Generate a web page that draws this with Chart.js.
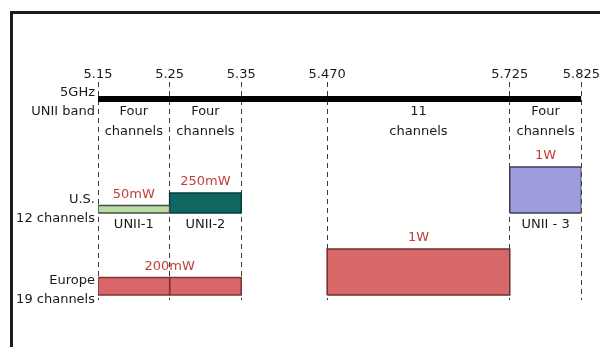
<!DOCTYPE html>
<html>
<head>
<meta charset="utf-8">
<script src="https://cdn.jsdelivr.net/npm/chart.js@4.4.1/dist/chart.umd.min.js"></script>
<style>
  html, body { margin: 0; padding: 0; background: #fff; }
  #wrap  { position: relative; width: 600px; height: 347px; overflow: hidden; }
  #frame { position: absolute; left: 10px; top: 11px; width: 600px; height: 400px;
           border-left: 3px solid #1c1c1c; border-top: 3px solid #1c1c1c; }
  canvas { position: absolute; left: 0; top: 0; }
</style>
</head>
<body>
<div id="wrap">
  <div id="frame"></div>
  <canvas id="bands" width="600" height="347"></canvas>
</div>
<script>
// ── Data ──────────────────────────────────
const freqTicks  = [5.15, 5.25, 5.35, 5.47, 5.725, 5.825];
const tickLabels = ['5.15', '5.25', '5.35', '5.470', '5.725', '5.825'];
const rowLabels  = [['5GHz', 'UNII band'], ['U.S.', '12 channels'], ['Europe', '19 channels']];

const groupStart = [5.15, 5.25, 5.47, 5.725];
const groupEnd   = [5.25, 5.35, 5.725, 5.825];
const groupCount = ['Four', 'Four', '11', 'Four'];

const bandRegion = ['U.S.', 'U.S.', 'U.S.', 'Europe', 'Europe', 'Europe'];
const bandStart  = [5.15, 5.25, 5.725, 5.15, 5.25, 5.47];
const bandEnd    = [5.25, 5.35, 5.825, 5.25, 5.35, 5.725];
const bandPower  = [50, 250, 1000, 200, 200, 1000];     // mW
const bandName   = ['UNII-1', 'UNII-2', 'UNII - 3', '', '', ''];

// ── Layout (y units ≈ px above chart bottom) ──
const Y_MAX     = 218;
const ROW_LEVEL = [198, 91, 10];                 // tick centre for each row label
const BASE      = { 'U.S.': 87, 'Europe': 5 };   // bar baselines
const BAND_Y    = 201;
const COUNT_Y   = [188, 168];

// ── Styles ────────────────────────────────
const FONT     = '"DejaVu Sans", sans-serif';
const INK      = '#1a1a1a';
const RED_TEXT = '#c43c3c';
const FILL     = ['#b8dca4', '#0f6662', '#9e9edd', '#d9676a', '#d9676a', '#d86868'];
const EDGE     = ['#4a4a4a', '#083c3a', '#3e3e55', '#7a3434', '#7a3434', '#6a3030'];

// bar height grows with transmit power
const heightFor = mW => 46 * Math.pow(mW / 1000, 0.6);
const powerText = mW => mW >= 1000 ? (mW / 1000) + 'W' : mW + 'mW';

// ── Datasets ──────────────────────────────
const datasets = [{
  data: [{ x: freqTicks[0], y: BAND_Y }, { x: freqTicks[freqTicks.length - 1], y: BAND_Y }],
  borderColor: '#000',
  borderWidth: 6,
  borderCapStyle: 'butt',
  pointRadius: 0,
  fill: false
}];

bandStart.forEach((s, i) => {
  const b = BASE[bandRegion[i]];
  const t = b + heightFor(bandPower[i]);
  const e = bandEnd[i];
  datasets.push({
    data: [{ x: s, y: b }, { x: e, y: b }, { x: e, y: t }, { x: s, y: t }, { x: s, y: b }],
    borderColor: EDGE[i],
    backgroundColor: FILL[i],
    borderWidth: 1.5,
    pointRadius: 0,
    tension: 0,
    fill: 'shape'
  });
});

// ── Text plugin ───────────────────────────
const bandText = {
  id: 'bandText',
  afterDatasetsDraw(chart) {
    const { ctx, scales: { x, y } } = chart;
    ctx.save();
    ctx.font = '13px ' + FONT;
    ctx.textAlign = 'center';
    ctx.textBaseline = 'middle';

    // channel counts under the band line
    ctx.fillStyle = INK;
    groupStart.forEach((s, i) => {
      const cx = x.getPixelForValue((s + groupEnd[i]) / 2);
      ctx.fillText(groupCount[i], cx, y.getPixelForValue(COUNT_Y[0]));
      ctx.fillText('channels', cx, y.getPixelForValue(COUNT_Y[1]));
    });

    // UNII names under the U.S. bars
    bandName.forEach((n, i) => {
      if (!n) return;
      const cx = x.getPixelForValue((bandStart[i] + bandEnd[i]) / 2);
      ctx.fillText(n, cx, y.getPixelForValue(BASE[bandRegion[i]] - 12));
    });

    // power labels, merged over neighbouring bands with the same limit
    ctx.fillStyle = RED_TEXT;
    let i = 0;
    while (i < bandStart.length) {
      let j = i;
      while (j + 1 < bandStart.length &&
             bandRegion[j + 1] === bandRegion[i] &&
             bandPower[j + 1] === bandPower[i] &&
             bandStart[j + 1] === bandEnd[j]) j++;
      const cx = x.getPixelForValue((bandStart[i] + bandEnd[j]) / 2);
      const top = BASE[bandRegion[i]] + heightFor(bandPower[i]);
      ctx.fillText(powerText(bandPower[i]), cx, y.getPixelForValue(top + 11));
      i = j + 1;
    }
    ctx.restore();
  }
};

// ── Chart ─────────────────────────────────
new Chart(document.getElementById('bands'), {
  type: 'line',
  data: { datasets },
  plugins: [bandText],
  options: {
    responsive: false,
    animation: false,
    layout: { padding: { top: 50, left: 10, right: 17, bottom: 47 } },
    plugins: { legend: { display: false }, tooltip: { enabled: false } },
    scales: {
      x: {
        type: 'linear',
        position: 'top',
        min: freqTicks[0],
        max: freqTicks[freqTicks.length - 1],
        afterFit: axis => { axis.height = 32; },
        afterBuildTicks: axis => { axis.ticks = freqTicks.map(v => ({ value: v })); },
        grid: { color: '#3a3a3a', lineWidth: 1, drawTicks: false },
        border: { display: false, dash: [5, 4] },
        ticks: {
          autoSkip: false,
          maxRotation: 0,
          padding: 0,
          color: INK,
          font: { family: FONT, size: 13 },
          callback: v => tickLabels[freqTicks.findIndex(f => Math.abs(f - v) < 1e-6)]
        }
      },
      y: {
        type: 'linear',
        min: 0,
        max: Y_MAX,
        afterFit: axis => { axis.width = 88; },
        afterBuildTicks: axis => { axis.ticks = ROW_LEVEL.map(v => ({ value: v })); },
        grid: { display: false, drawTicks: false },
        border: { display: false },
        ticks: {
          padding: 3,
          color: INK,
          font: { family: FONT, size: 13, lineHeight: 1.5 },
          callback: v => rowLabels[ROW_LEVEL.indexOf(v)]
        }
      }
    }
  }
});
</script>
</body>
</html>
